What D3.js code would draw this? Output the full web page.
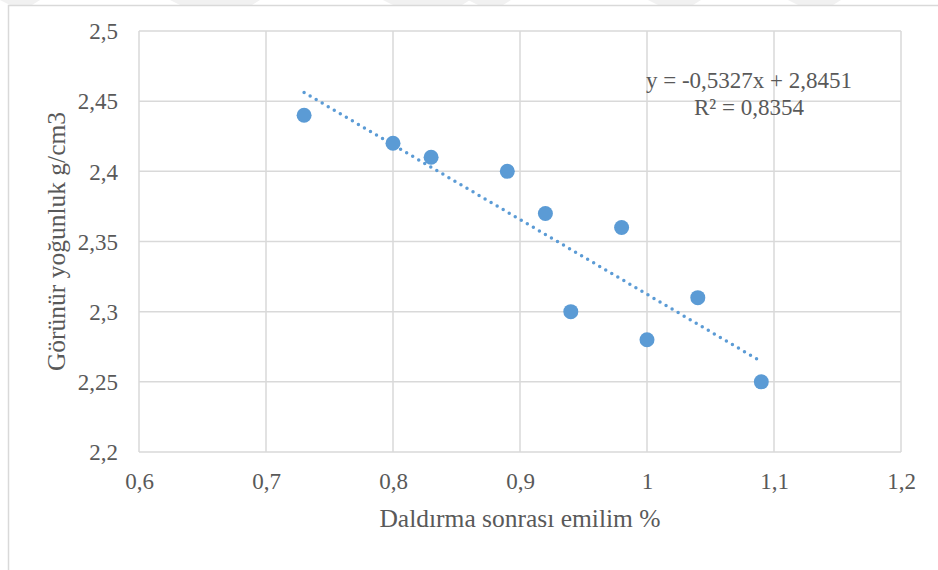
<!DOCTYPE html>
<html>
<head>
<meta charset="utf-8">
<script src="https://cdn.jsdelivr.net/npm/d3@7"></script>
<style>
  html, body { margin: 0; padding: 0; background: #ffffff; }
  svg { display: block; }
  svg text { font-family: "Times New Roman", "Liberation Serif", Tinos, "DejaVu Serif", serif !important; fill: #595959; }
</style>
</head>
<body>
<svg id="chart" width="938" height="570"></svg>
<script>
// Absorption after immersion (%) vs apparent density (g/cm3)
const absorption = [0.73, 0.80, 0.83, 0.89, 0.92, 0.94, 0.98, 1.00, 1.04, 1.09];
const density    = [2.44, 2.42, 2.41, 2.40, 2.37, 2.30, 2.36, 2.28, 2.31, 2.25];

// Linear trendline as reported on the chart
const trendSlope = -0.5327;
const trendIntercept = 2.8451;
const trendLabel = "y = -0,5327x + 2,8451";
const r2Label = "R² = 0,8354";

const xTicks = [0.6, 0.7, 0.8, 0.9, 1.0, 1.1, 1.2];
const yTicks = [2.2, 2.25, 2.3, 2.35, 2.4, 2.45, 2.5];

const xTitle = "Daldırma sonrası emilim %";
const yTitle = "Görünür yoğunluk g/cm3";

const serif = '"Times New Roman", "Liberation Serif", Tinos, "DejaVu Serif", serif';

const svg = d3.select("#chart");
const W = 938, H = 570;
const plot = { left: 139, right: 901, top: 31, bottom: 452 };

const commaFmt = v => String(+v.toFixed(2)).replace(".", ",");

// faint watermark shapes along the top edge
const wm = svg.append("g").attr("fill", "#f1f1f1");
[[0, 40], [170, 90], [383, 87], [468, 43], [648, 53], [788, 53]].forEach(([x0, w]) => {
  wm.append("polygon")
    .attr("points", `${x0},0 ${x0 + w},0 ${x0 + w - 8},5 ${x0 + 10},5`);
});

// chart area border
svg.append("rect")
  .attr("x", 8.5).attr("y", 5.5)
  .attr("width", W + 20).attr("height", H + 20)
  .attr("fill", "none").attr("stroke", "#d9d9d9").attr("stroke-width", 1.5);

const x = d3.scaleLinear().domain([0.6, 1.2]).range([plot.left, plot.right]);
const y = d3.scaleLinear().domain([2.2, 2.5]).range([plot.bottom, plot.top]);

// gridlines
const grid = svg.append("g").attr("stroke", "#d9d9d9").attr("stroke-width", 1.5);
grid.selectAll("line.v").data(xTicks).join("line")
  .attr("class", "v")
  .attr("x1", d => x(d)).attr("x2", d => x(d))
  .attr("y1", plot.top).attr("y2", plot.bottom);
grid.selectAll("line.h").data(yTicks).join("line")
  .attr("class", "h")
  .attr("x1", plot.left).attr("x2", plot.right)
  .attr("y1", d => y(d)).attr("y2", d => y(d));

// axes built from d3 axis generators, with lines hidden (gridlines serve as frame)
const xAxis = svg.append("g")
  .attr("transform", `translate(0,${plot.bottom})`)
  .call(d3.axisBottom(x).tickValues(xTicks).tickFormat(commaFmt).tickSize(0).tickPadding(0))
  .attr("font-family", serif).attr("font-size", 23);
xAxis.select(".domain").remove();
xAxis.selectAll("text")
  .attr("y", 37).attr("dy", null)
  .attr("fill", "#595959");

const yAxis = svg.append("g")
  .attr("transform", `translate(${plot.left},0)`)
  .call(d3.axisLeft(y).tickValues(yTicks).tickFormat(commaFmt).tickSize(0).tickPadding(0))
  .attr("font-family", serif).attr("font-size", 23);
yAxis.select(".domain").remove();
yAxis.selectAll("text")
  .attr("x", -21).attr("dy", "0.34em")
  .attr("fill", "#595959");

// axis titles
svg.append("text")
  .attr("x", (plot.left + plot.right) / 2).attr("y", 527)
  .attr("text-anchor", "middle")
  .attr("font-size", 25.5)
  .text(xTitle);

svg.append("text")
  .attr("transform", `translate(65,${(plot.top + plot.bottom) / 2}) rotate(-90)`)
  .attr("text-anchor", "middle")
  .attr("font-size", 25.5)
  .text(yTitle);

// dotted linear trendline over the data range
const xr = d3.extent(absorption);
svg.append("line")
  .attr("x1", x(xr[0])).attr("y1", y(trendSlope * xr[0] + trendIntercept))
  .attr("x2", x(xr[1])).attr("y2", y(trendSlope * xr[1] + trendIntercept))
  .attr("stroke", "#5b9bd5").attr("stroke-width", 3.5)
  .attr("stroke-linecap", "round").attr("stroke-dasharray", "0 7");

// data points
svg.append("g").selectAll("circle")
  .data(absorption.map((a, i) => [a, density[i]]))
  .join("circle")
  .attr("cx", d => x(d[0])).attr("cy", d => y(d[1]))
  .attr("r", 7.5)
  .attr("fill", "#5b9bd5");

// trendline equation
svg.append("text")
  .attr("x", 749).attr("y", 88)
  .attr("text-anchor", "middle")
  .attr("font-size", 23)
  .text(trendLabel);
svg.append("text")
  .attr("x", 749).attr("y", 115)
  .attr("text-anchor", "middle")
  .attr("font-size", 23)
  .text(r2Label);
</script>
</body>
</html>
